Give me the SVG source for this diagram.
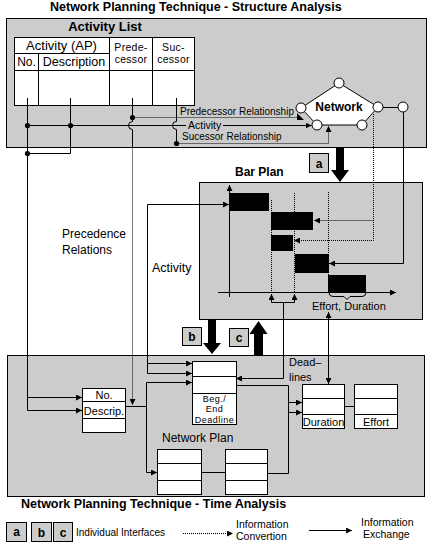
<svg xmlns="http://www.w3.org/2000/svg" width="435" height="550" viewBox="0 0 435 550">
<defs>
<style>
text{font-family:"Liberation Sans",Arial,sans-serif;fill:#000}
.b{font-weight:bold}
.panel{fill:#cccccc;stroke:#000;stroke-width:1}
.box{fill:#fff;stroke:#000;stroke-width:1}
.ln{fill:none;stroke:#000;stroke-width:1}
.dt{fill:none;stroke:#000;stroke-width:1;stroke-dasharray:1,1}
.ar{marker-end:url(#ah)}
.dot{fill:#000}
.bar{fill:#000}
.ibox{fill:#cccccc;stroke:#000;stroke-width:1}
</style>
<marker id="ah" viewBox="0 0 6 6" refX="6" refY="3" markerWidth="6" markerHeight="6" markerUnits="userSpaceOnUse" orient="auto">
<path d="M0,0 L6,3 L0,6 z" fill="#000"/>
</marker>
</defs>
<rect width="435" height="550" fill="#fff"/>

<text class="b" x="50" y="11" font-size="12.5">Network Planning Technique - Structure Analysis</text>

<g id="panels">
<rect id="structure-panel" class="panel" x="6.5" y="18.5" width="420" height="129"/>
<rect id="barplan-panel" class="panel" x="199.5" y="182.5" width="223" height="137"/>
<rect id="time-panel" class="panel" x="7.5" y="355.5" width="417" height="141"/>
</g>

<g id="activity-list">
<text class="b" x="105" y="31" font-size="13" text-anchor="middle">Activity List</text>
<rect class="box" x="14.5" y="37.5" width="180" height="68"/>
<path class="ln" d="M14.5,53.5 H109.5 M14.5,70.5 H194.5 M38.5,53.5 V105.5 M109.5,37.5 V105.5 M152.5,37.5 V105.5"/>
<text x="61.5" y="50" font-size="13" text-anchor="middle">Activity (AP)</text>
<text x="26.5" y="66" font-size="12" text-anchor="middle">No.</text>
<text x="74" y="66" font-size="12.5" text-anchor="middle">Description</text>
<text x="131" y="50.5" font-size="10.5" text-anchor="middle" letter-spacing="0.3">Prede-</text>
<text x="131" y="63" font-size="10.5" text-anchor="middle" letter-spacing="0.3">cessor</text>
<text x="173.5" y="50.5" font-size="10.5" text-anchor="middle" letter-spacing="0.3">Suc-</text>
<text x="173.5" y="63" font-size="10.5" text-anchor="middle" letter-spacing="0.3">cessor</text>
</g>

<g id="connectors">
<path class="ln ar" d="M27.5,98 V410.5 H82"/>
<path class="ln ar" d="M27.5,397.5 H82"/>
<path class="ln" d="M70.5,98 V153.5 H27.5"/>
<path class="ln" d="M27.5,125.5 H186"/>
<path class="ln ar" d="M223,125.5 H311.5"/>
<path class="ln" d="M132.5,98 V121.5 A4,4 0 0 0 132.5,129.5 V147.5"/>
<path class="dt ar" d="M132.5,147.5 V405"/>
<path class="ln" d="M176.5,98 V121.5 A4,4 0 0 0 176.5,129.5 V143.5"/>
<path class="dt" d="M132.5,117.5 H298"/>
<polygon points="297,113 297,120 304,120" fill="#000"/>
<path class="dt ar" d="M176.5,143.5 H328.5 V126"/>
<path class="ln" d="M383,107.5 H398"/>
<path class="ln ar" d="M403.5,112 V263.5 H329"/>
<path class="dt ar" d="M373.5,114 V240.5 H294"/>
<path class="dt ar" d="M373.5,220.5 H314"/>
<path class="ln ar" d="M147.5,373.5 V204.5 H229"/>
<path class="ln ar" d="M147.5,373.5 H192"/>
<path class="ln ar" d="M147.5,363.5 H192"/>
<path class="ln" d="M125,406.5 H146.5"/>
<path class="ln ar" d="M146.5,472.5 V382.5 H192"/>
<path class="ln ar" d="M146.5,472.5 H157"/>
<path class="ln ar" d="M271.5,302.5 V294"/>
<path class="ln ar" d="M294.5,302.5 V294"/>
<path class="ln" d="M271.5,302.5 H294.5"/>
<path class="ln ar" d="M283.5,302.5 V378.5 H236"/>
<path class="ln ar" d="M328.5,350 V312"/>
<path class="ln ar" d="M328.5,350 V384"/>
<path class="ln" d="M236,385.5 H288.5 V473.5 H267"/>
<path class="ln ar" d="M288.5,402.5 H302"/>
<path class="ln ar" d="M288.5,412.5 H302"/>
<path class="ln" d="M344,406.5 H354"/>
<path class="ln" d="M201,472.5 H225"/>
<text x="180" y="115" font-size="10">Predecessor Relationship</text>
<text x="188" y="129" font-size="10.5">Activity</text>
<text x="182" y="140" font-size="10">Sucessor Relationship</text>
<text x="62" y="238" font-size="12">Precedence</text>
<text x="62" y="254" font-size="12">Relations</text>
<text x="152" y="272" font-size="12.5">Activity</text>
<text x="289" y="366" font-size="11">Dead–</text>
<text x="289" y="381" font-size="11">lines</text>
<circle class="dot" cx="27.5" cy="125.5" r="2.6"/>
<circle class="dot" cx="70.5" cy="125.5" r="2.6"/>
<circle class="dot" cx="27.5" cy="153.5" r="2.6"/>
<circle class="dot" cx="132.5" cy="117.5" r="2.6"/>
<circle class="dot" cx="176.5" cy="143.5" r="2.6"/>
</g>

<g id="network">
<polygon class="box" points="339,83 301,108 317,125 362,125 378,107"/>
<circle class="box" cx="339" cy="83" r="5"/>
<circle class="box" cx="301" cy="108" r="5"/>
<circle class="box" cx="317" cy="125" r="5"/>
<circle class="box" cx="362" cy="125" r="5"/>
<circle class="box" cx="378" cy="107" r="5"/>
<circle class="box" cx="403" cy="107" r="5"/>
<text class="b" x="339" y="111" font-size="12" text-anchor="middle">Network</text>
</g>

<g id="bar-plan">
<text class="b" x="235" y="176" font-size="12">Bar Plan</text>
<path class="dt" d="M271.5,200 V292 M294.5,193 V292 M328.5,192 V275"/>
<path class="ln ar" d="M229.5,297 V185"/>
<path class="ln ar" d="M218,292.5 H396"/>
<rect class="bar" x="229" y="193" width="40" height="18"/>
<rect class="bar" x="271" y="212" width="42" height="18"/>
<rect class="bar" x="271" y="235" width="22" height="16"/>
<rect class="bar" x="295" y="254" width="34" height="19"/>
<rect class="bar" x="328" y="275" width="38" height="17"/>
<path class="ln" d="M329,292.5 Q329,296.5 333,296.5 H344 L347,299.5 L350,296.5 H362 Q366,296.5 366,292.5"/>
<text x="312" y="310" font-size="11">Effort, Duration</text>
</g>

<g id="interface-a">
<rect class="ibox" x="309.5" y="153.5" width="19" height="19"/>
<text class="b" x="319" y="168" font-size="12" text-anchor="middle">a</text>
<path d="M336,148 H344 V170 H349 L340,182 L331,170 H336 Z" fill="#000"/>
</g>
<g id="interface-b">
<rect class="ibox" x="182.5" y="327.5" width="19" height="18"/>
<text class="b" x="192" y="341" font-size="12" text-anchor="middle">b</text>
<path d="M208,320 H216 V343 H221 L212,354 L203,343 H208 Z" fill="#000"/>
</g>
<g id="interface-c">
<rect class="ibox" x="229.5" y="328.5" width="19" height="18"/>
<text class="b" x="239" y="342" font-size="12" text-anchor="middle">c</text>
<path d="M254,355 H263 V334 H267.5 L258.5,321 L249.5,334 H254 Z" fill="#000"/>
</g>

<g id="no-descrip">
<rect class="box" x="82.5" y="388.5" width="43" height="44"/>
<path class="ln" d="M82.5,401.5 H125.5 M82.5,418.5 H125.5"/>
<text x="104" y="399" font-size="11" text-anchor="middle">No.</text>
<text x="104" y="414.5" font-size="11" text-anchor="middle">Descrip.</text>
</g>

<g id="beg-end-deadline">
<rect class="box" x="192.5" y="361.5" width="44" height="63"/>
<path class="ln" d="M192.5,376.5 H236.5 M192.5,393.5 H236.5"/>
<text x="214.5" y="401.5" font-size="9" text-anchor="middle" letter-spacing="0.5">Beg./</text>
<text x="214.5" y="412" font-size="9" text-anchor="middle" letter-spacing="0.5">End</text>
<text x="214.5" y="422.5" font-size="9" text-anchor="middle" letter-spacing="0.5">Deadline</text>
</g>

<g id="duration">
<rect class="box" x="302.5" y="384.5" width="42" height="44"/>
<path class="ln" d="M302.5,398.5 H344.5 M302.5,414.5 H344.5"/>
<text x="323.5" y="426" font-size="11" text-anchor="middle">Duration</text>
</g>

<g id="effort">
<rect class="box" x="354.5" y="384.5" width="43" height="44"/>
<path class="ln" d="M354.5,398.5 H397.5 M354.5,414.5 H397.5"/>
<text x="376" y="426" font-size="11" text-anchor="middle">Effort</text>
</g>

<g id="network-plan">
<text x="162" y="442" font-size="12">Network Plan</text>
<rect class="box" x="157.5" y="449.5" width="44" height="45"/>
<path class="ln" d="M157.5,463.5 H201.5 M157.5,480.5 H201.5"/>
<rect class="box" x="225.5" y="449.5" width="42" height="45"/>
<path class="ln" d="M225.5,463.5 H267.5 M225.5,480.5 H267.5"/>
</g>

<text class="b" x="21" y="508" font-size="12.5">Network Planning Technique - Time Analysis</text>

<g id="legend">
<rect class="ibox" x="6.5" y="522.5" width="20" height="19"/>
<text class="b" x="16.5" y="536" font-size="12" text-anchor="middle">a</text>
<rect class="ibox" x="31.5" y="522.5" width="20" height="19"/>
<text class="b" x="41.5" y="537" font-size="12" text-anchor="middle">b</text>
<rect class="ibox" x="53.5" y="522.5" width="19" height="19"/>
<text class="b" x="63" y="537" font-size="12" text-anchor="middle">c</text>
<text x="76" y="536" font-size="10">Individual Interfaces</text>
<path class="dt ar" d="M183,533.5 H233"/>
<text x="236" y="528" font-size="10.5">Information</text>
<text x="236" y="540" font-size="10.5">Convertion</text>
<path class="ln ar" d="M309,530.5 H352"/>
<text x="361" y="526" font-size="10.5">Information</text>
<text x="363" y="538" font-size="10.5">Exchange</text>
</g>
</svg>
